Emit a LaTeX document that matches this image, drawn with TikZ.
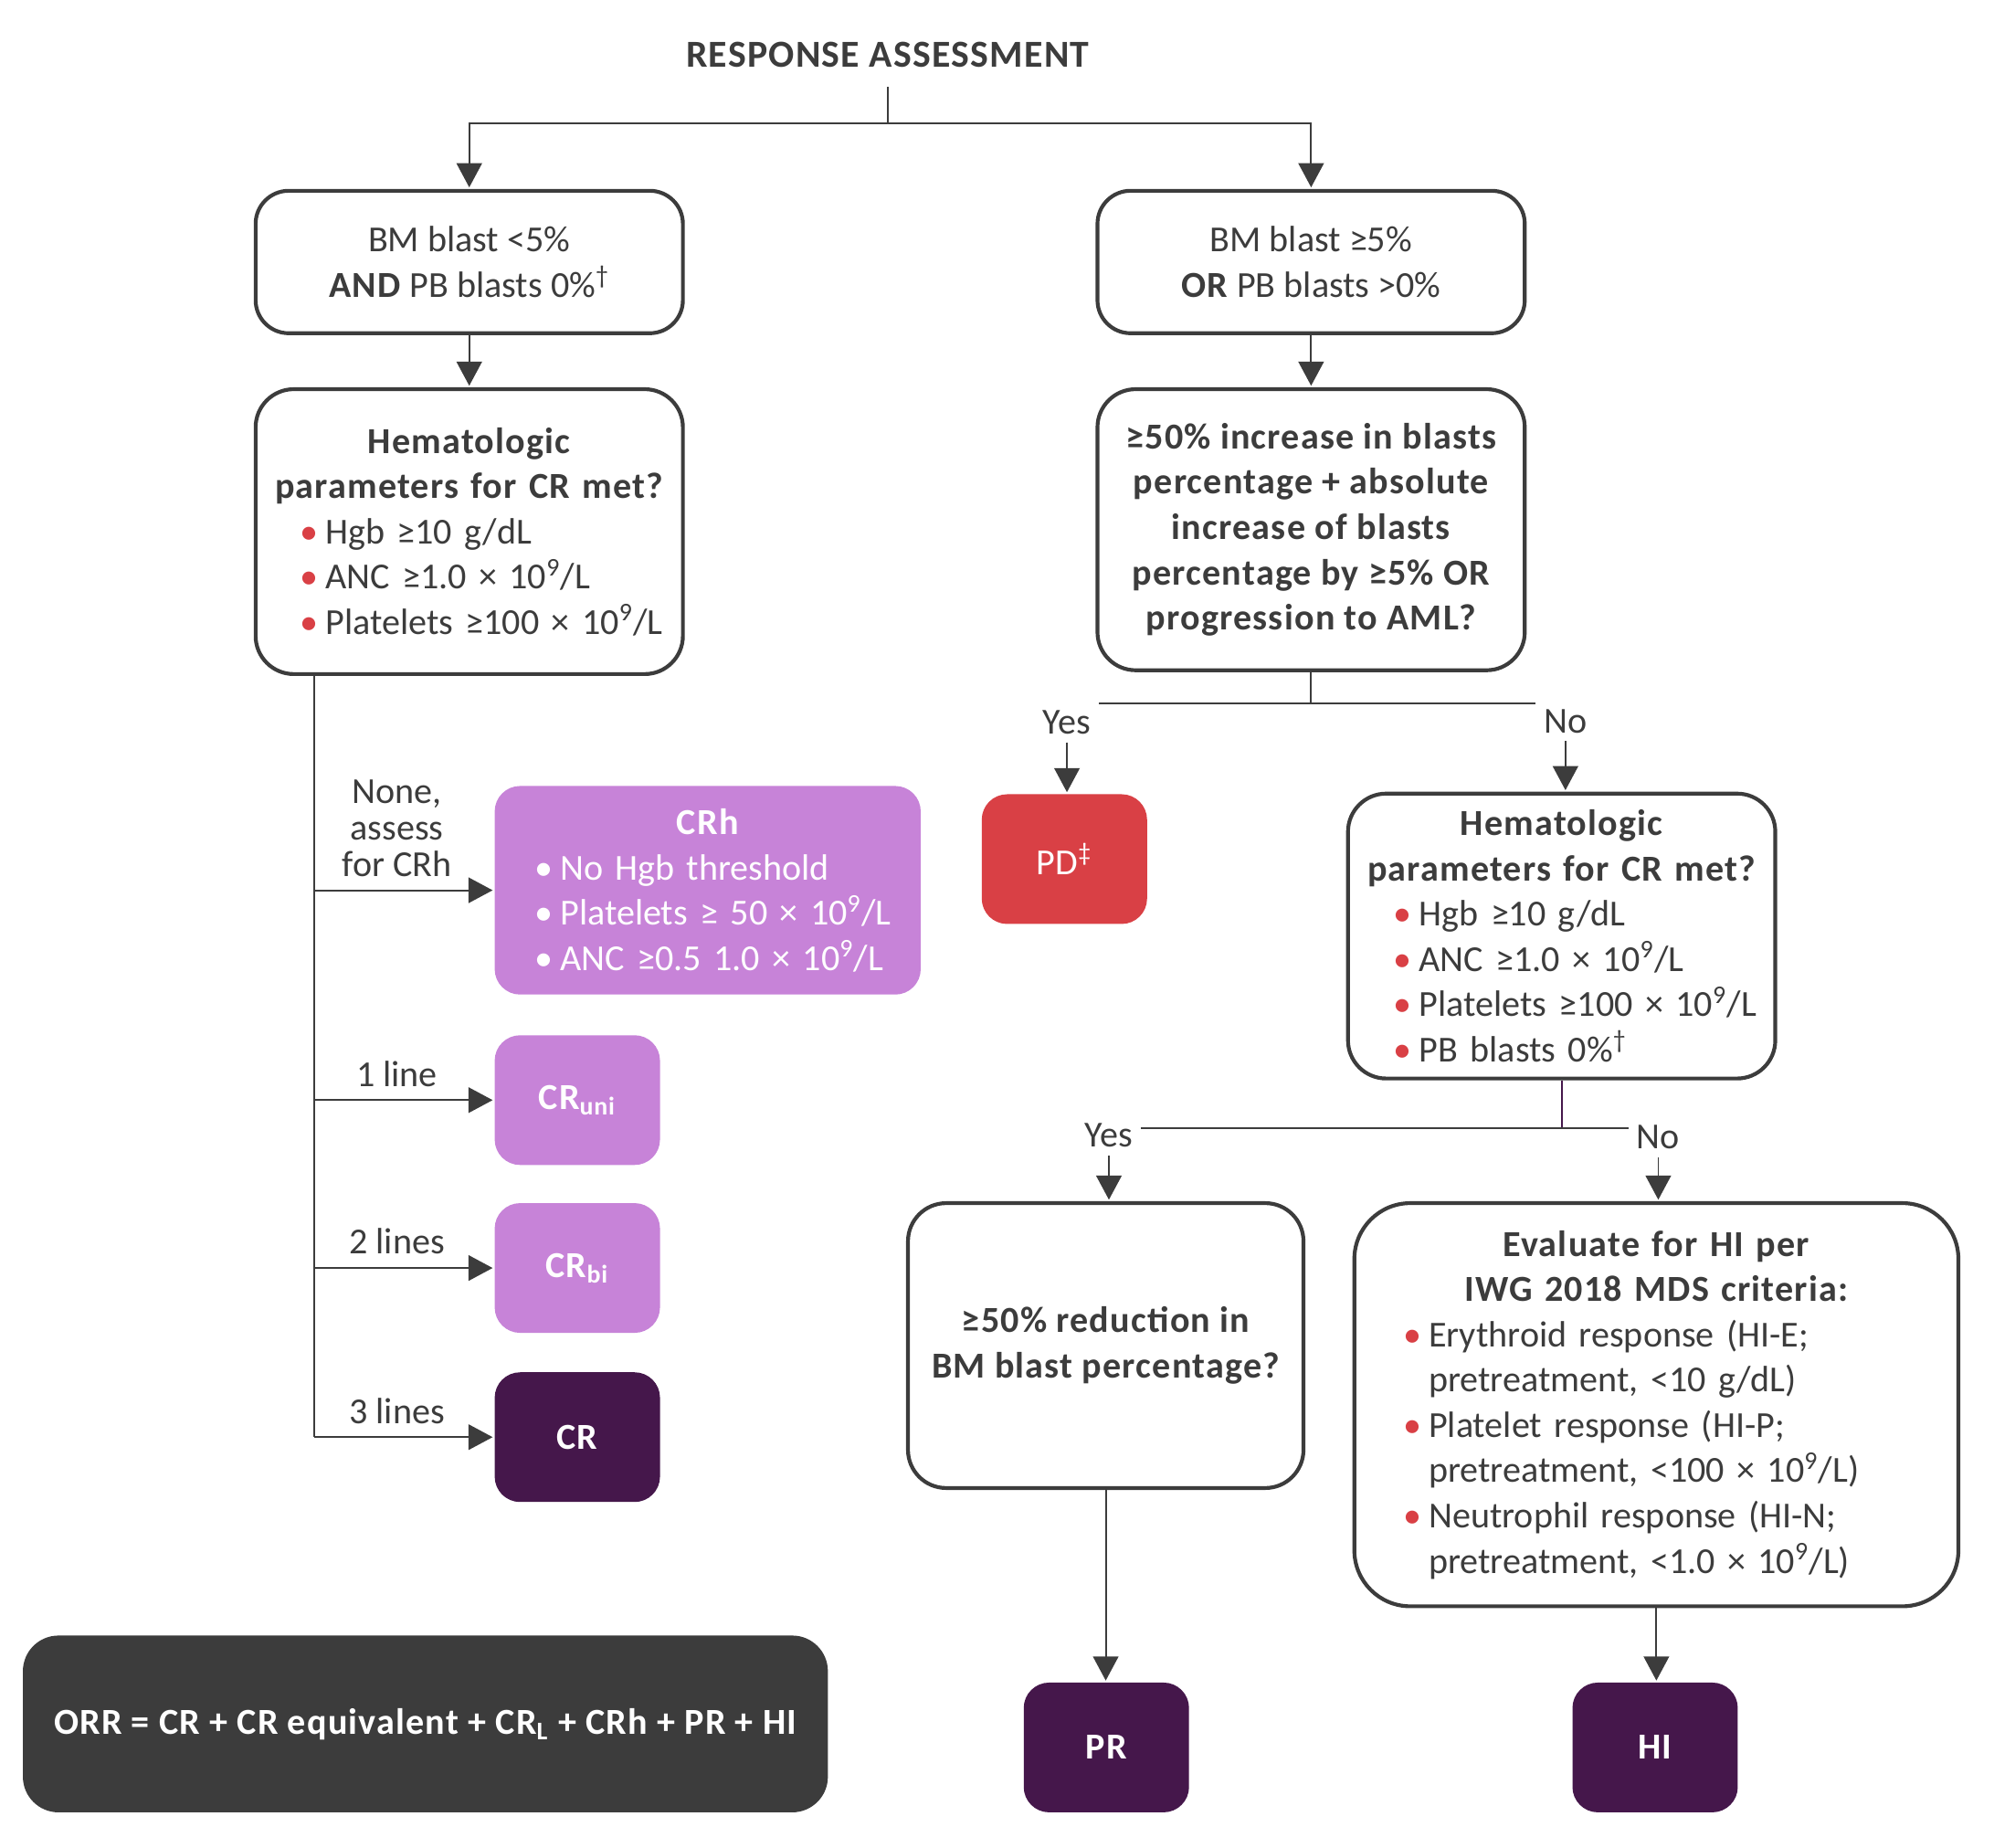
\documentclass[tikz,border=0pt]{standalone}
\usepackage{fontspec}
\setmainfont{Carlito}[BoldFeatures={LetterSpace=3}]
\usetikzlibrary{arrows.meta}
\definecolor{linegray}{HTML}{3C3C3C}
\definecolor{lpurple}{HTML}{C783D8}
\definecolor{dpurple}{HTML}{45174B}
\definecolor{pdred}{HTML}{D94045}
\setlength\parindent{0pt}
\newlength\bulind
\newlength\bulgap
\newcommand\boxfont{\fontsize{14.4}{17.8}\selectfont}
\newcommand\bitem[2][pdred]{\par\noindent\hspace*{\bulind}\makebox[\bulgap][l]{\textcolor{#1}{•}}#2}
\newcommand\bmore[1]{\par\noindent\hspace*{\dimexpr\bulind+\bulgap\relax}#1}
\begin{document}
\begin{tikzpicture}[x=0.5pt,y=-0.5pt,text=linegray,font=\boxfont,
	wbox/.style={draw=linegray,line width=1.5pt,rounded corners=13pt,fill=white,inner sep=0pt,minimum width=168pt,font=\boxfont},
	cbox/.style={rounded corners=10pt,inner sep=0pt,text=white,minimum width=65pt,minimum height=51pt,font=\boxfont},
	tag/.style={cbox,font=\boxfont\bfseries},
	conn/.style={draw=linegray,line width=0.7pt},
	arr/.style={conn,-{Triangle[width=10pt,length=9.5pt]},shorten >=0.6pt},
	lbl/.style={inner sep=3pt,font=\boxfont}]
	\useasboundingbox (0,0) rectangle (1568,1453);
	
	\node[inner sep=0pt,font=\fontsize{15}{18}\selectfont\bfseries] (title) at (698,43) {RESPONSE ASSESSMENT};
	\node[wbox,minimum height=56pt,align=center] (bmlo) at (369,206) {BM blast <5\%\\\textbf{AND} PB blasts 0\%\textsuperscript{†}};
	\node[wbox,minimum height=56pt,align=center] (bmhi) at (1031,206) {BM blast ≥5\%\\\textbf{OR} PB blasts >0\%};
	\node[wbox,minimum height=112pt,text width=165pt,rounded corners=15pt] (hmA) at (369,418) {\setlength\bulind{16pt}\setlength\bulgap{10pt}{\centering\bfseries Hematologic\\parameters for CR met?\par}\bitem{Hgb ≥10 g/dL}\bitem{ANC ≥1.0 × 10\textsuperscript{9}/L}\bitem{Platelets ≥100 × 10\textsuperscript{9}/L}};
	\node[wbox,minimum height=110.5pt,align=center,rounded corners=15pt,font=\boxfont\bfseries] (inc) at (1031,416.5) {≥50\% increase in blasts\\percentage + absolute\\increase of blasts\\percentage by ≥5\% OR\\progression to AML?};
	
	\node[cbox,fill=lpurple,minimum width=167.5pt,minimum height=82pt,text width=150pt] (crh) at (556.5,700) {\setlength\bulind{7pt}\setlength\bulgap{10pt}{\centering\bfseries CRh\par}\bitem[white]{No Hgb threshold}\bitem[white]{Platelets ≥ 50 × 10\textsuperscript{9}/L}\bitem[white]{ANC ≥0.5 1.0 × 10\textsuperscript{9}/L}};
	\node[tag,fill=lpurple] (cruni) at (454,865) {CR\textsubscript{uni}};
	\node[tag,fill=lpurple] (crbi) at (454,997) {CR\textsubscript{bi}};
	\node[tag,fill=dpurple] (cr) at (454,1130) {CR};
	
	\node[cbox,fill=pdred] (pd) at (837,675.5) {PD\textsuperscript{‡}};
	\node[wbox,minimum height=112pt,text width=165pt,rounded corners=15pt] (hmB) at (1228,736) {\setlength\bulind{16.5pt}\setlength\bulgap{10pt}{\centering\bfseries Hematologic\\parameters for CR met?\par}\bitem{Hgb ≥10 g/dL}\bitem{ANC ≥1.0 × 10\textsuperscript{9}/L}\bitem{Platelets ≥100 × 10\textsuperscript{9}/L}\bitem{PB blasts 0\%\textsuperscript{†}}};
	\node[wbox,minimum width=155.5pt,minimum height=112pt,align=center,rounded corners=15pt,font=\boxfont\bfseries] (red) at (869.5,1058) {≥50\% reduction in\\BM blast percentage?};
	\node[wbox,minimum width=237.5pt,minimum height=158.5pt,text width=210pt,rounded corners=22pt] (hiev) at (1302.5,1104.5) {\setlength\bulind{5.5pt}\setlength\bulgap{10pt}{\centering\bfseries Evaluate for HI per\\IWG 2018 MDS criteria:\par}\bitem{Erythroid response (HI-E;}\bmore{pretreatment, <10 g/dL)}\bitem{Platelet response (HI-P;}\bmore{pretreatment, <100 × 10\textsuperscript{9}/L)}\bitem{Neutrophil response (HI-N;}\bmore{pretreatment, <1.0 × 10\textsuperscript{9}/L)}};
	\node[tag,fill=dpurple] (pr) at (870,1374) {PR};
	\node[tag,fill=dpurple] (hi) at (1301.5,1374) {HI};
	\node[tag,fill=linegray,minimum width=316.5pt,minimum height=69.5pt,rounded corners=14pt] (orr) at (334.5,1355.5) {ORR = CR + CR equivalent + CR\textsubscript{L} + CRh + PR + HI};
	
	\coordinate (top) at (698,97);
	\draw[conn] ([yshift=-7.5pt]title.south) -- (top);
	\draw[arr] (top) -| (bmlo.north);
	\draw[arr] (top) -| (bmhi.north);
	\draw[arr] (bmlo.south) -- (hmA.north);
	\draw[arr] (bmhi.south) -- (inc.north);
	
	\coordinate (lx) at (247,0);
	\draw[conn] (hmA.south -| lx) -- (lx |- cr.west);
	\foreach \n/\t in {crh/{None,\\assess\\for CRh},cruni/1 line,crbi/2 lines,cr/3 lines}
		\draw[arr] (lx |- \n.west) -- node[lbl,above,align=center,pos=0.46,inner ysep=5pt,font=\fontsize{14.4}{14.3}\selectfont] (l\n) {\t} (\n.west);
	
	\coordinate (s1) at (1031,553);
	\draw[conn] (inc.south) -- (s1);
	\node[lbl] (yes1) at (839,568) {Yes};
	\node[lbl] (no1) at (1231,567) {No};
	\draw[conn] (s1 -| yes1.east) -- (s1 -| no1.west);
	\draw[arr] (yes1.south) -- (yes1.south |- pd.north);
	\draw[arr] (no1.south) -- (no1.south |- hmB.north);
	
	\coordinate (s2) at (1228,887);
	\draw[conn,draw=dpurple] (hmB.south) -- (s2);
	\node[lbl] (yes2) at (872,893) {Yes};
	\node[lbl] (no2) at (1304,894) {No};
	\draw[conn] (s2 -| yes2.east) -- (s2 -| no2.west);
	\draw[arr] (yes2.south) -- (yes2.south |- red.north);
	\draw[arr] (no2.south) -- (no2.south |- hiev.north);
	\draw[arr] (red.south) -- (red.south |- pr.north);
	\draw[arr] (hiev.south) -- (hiev.south |- hi.north);
\end{tikzpicture}
\end{document}
